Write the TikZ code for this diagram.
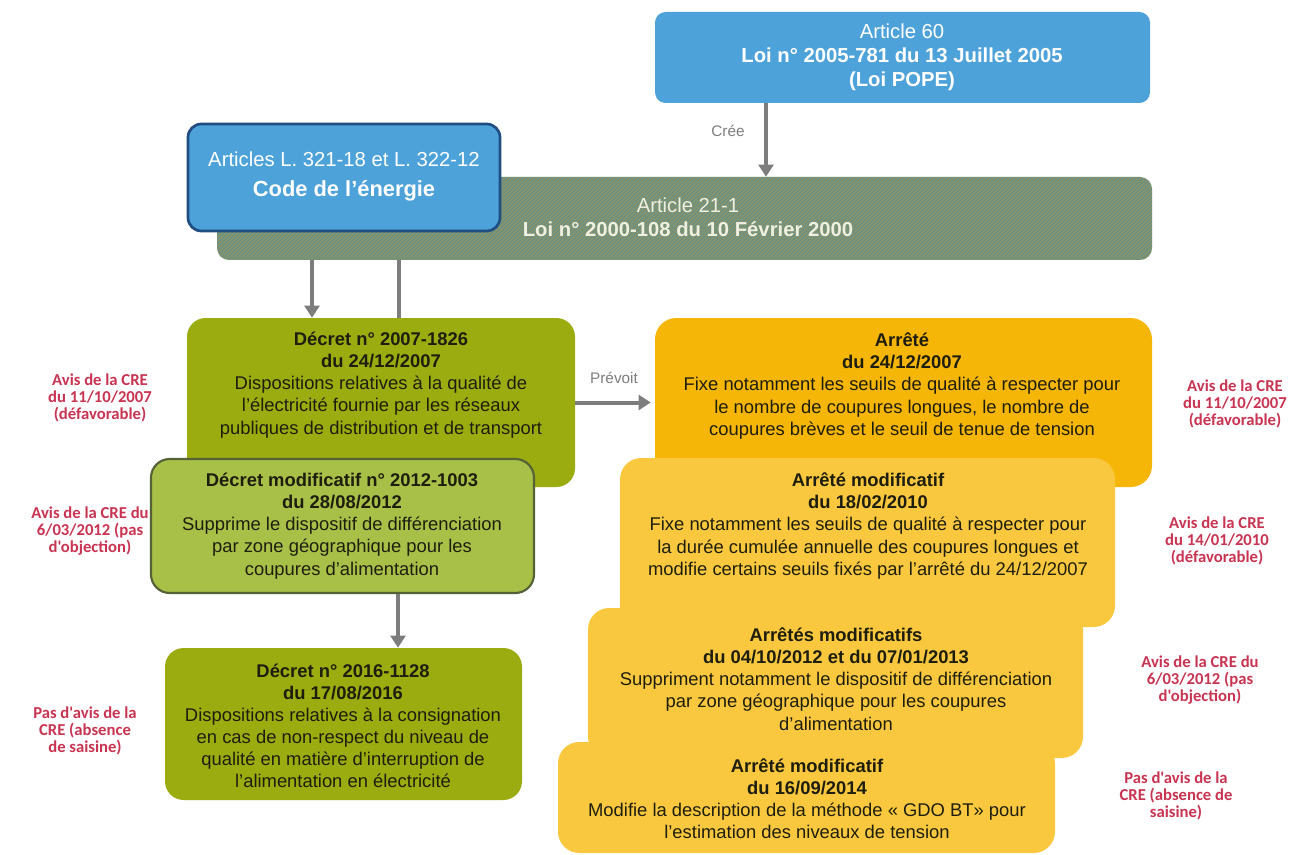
\documentclass[tikz,border=0pt]{standalone}
\usepackage{fontspec}
\setmainfont{Liberation Sans}
\newfontfamily\labfont{Carlito}
\usetikzlibrary{arrows.meta,patterns,fit}
\definecolor{blueA}{RGB}{78,162,218}
\definecolor{blueBorder}{RGB}{32,78,130}
\definecolor{hatchBase}{RGB}{110,145,128}
\definecolor{hatchStripe}{RGB}{158,150,92}
\definecolor{olive}{RGB}{155,172,16}
\definecolor{lightGreen}{RGB}{168,192,72}
\definecolor{greenBorder}{RGB}{85,98,55}
\definecolor{orangeA}{RGB}{246,182,8}
\definecolor{orangeB}{RGB}{250,200,62}
\definecolor{redLab}{RGB}{200,52,82}
\definecolor{arrGray}{RGB}{125,125,125}
\definecolor{darkText}{RGB}{30,30,15}
\definecolor{creamText}{RGB}{240,240,225}
\tikzset{
  box/.style={rounded corners=11pt, inner sep=0pt, draw=none},
  body/.style={align=center, text=darkText, font=\fontsize{13.8}{16.6}\selectfont},
  lab/.style={align=center, text=redLab, font=\labfont\bfseries\fontsize{12.5}{12.6}\selectfont},
  small/.style={text=arrGray, font=\fontsize{11.5}{13}\selectfont},
  arr/.style={draw=arrGray, line width=3pt, -{Triangle[length=9pt,width=11pt]}},
  plainline/.style={draw=arrGray, line width=3pt},
}
\begin{document}
\begin{tikzpicture}[x=0.75pt,y=-0.75pt]
\useasboundingbox (0,0) rectangle (1301,855);
\fill[white] (0,0) rectangle (1301,855);

% top blue
\node[box, rounded corners=8pt, fill=blueA, fit={(655,12) (1150,103)}] (a60) {};
\node[align=center, text=white, font=\fontsize{15.2}{18}\selectfont] (a60t) at (902,57)
  {Article 60\\\textbf{Loi n° 2005-781 du 13 Juillet 2005}\\\textbf{(Loi POPE)}};

% hatched
\node[box, rounded corners=9pt, fill=hatchBase, postaction={pattern=north east lines, pattern color=hatchStripe}, fit={(217,177) (1152,260)}] (art21) {};
\node[align=center, text=creamText, font=\fontsize{15.2}{18}\selectfont] (art21t) at (688,217)
  {Article 21-1\\\textbf{Loi n° 2000-108 du 10 F\'evrier 2000}};

% code de l'energie
\node[box, rounded corners=10pt, fill=blueA, draw=blueBorder, line width=2pt, fit={(188,124) (500,231)}] (code) {};
\node[align=center, text=white, font=\fontsize{15.2}{22.5}\selectfont] (codet) at (344,176)
  {Articles L. 321-18 et L. 322-12\\{\fontsize{16.4}{22.5}\selectfont\bfseries Code de l'\'energie}};

% green column
\node[box, rounded corners=14pt, fill=olive, fit={(187,318) (575,487)}] (d07) {};
\node[body] (d07t) at (381,385)
  {\textbf{D\'ecret n° 2007-1826}\\\textbf{du 24/12/2007}\\Dispositions relatives \`a la qualit\'e de\\l'\'electricit\'e fournie par les r\'eseaux\\publiques de distribution et de transport};

\node[box, rounded corners=14pt, fill=lightGreen, draw=greenBorder, line width=1.6pt, fit={(151,459) (534,593)}] (dmod) {};
\node[body] (dmodt) at (342,526)
  {\textbf{D\'ecret modificatif n° 2012-1003}\\\textbf{du 28/08/2012}\\Supprime le dispositif de diff\'erenciation\\par zone g\'eographique pour les\\coupures d'alimentation};

\node[box, rounded corners=14pt, fill=olive, fit={(165,648) (522,800)}] (d16) {};
\node[body] (d16t) at (343,726)
  {\textbf{D\'ecret n° 2016-1128}\\\textbf{du 17/08/2016}\\Dispositions relatives \`a la consignation\\en cas de non-respect du niveau de\\qualit\'e en mati\`ere d'interruption de\\l'alimentation en \'electricit\'e};

% orange column
\node[box, rounded corners=16pt, fill=orangeA, fit={(655,318) (1152,487)}] (a07) {};
\node[body] (a07t) at (902,386)
  {\textbf{Arr\^et\'e}\\\textbf{du 24/12/2007}\\Fixe notamment les seuils de qualit\'e \`a respecter pour\\le nombre de coupures longues, le nombre de\\coupures br\`eves et le seuil de tenue de tension};

\node[box, rounded corners=16pt, fill=orangeB, fit={(620,458) (1115,627)}] (a10) {};
\node[body] (a10t) at (868,526)
  {\textbf{Arr\^et\'e modificatif}\\\textbf{du 18/02/2010}\\Fixe notamment les seuils de qualit\'e \`a respecter pour\\la dur\'ee cumul\'ee annuelle des coupures longues et\\modifie certains seuils fix\'es par l'arr\^et\'e du 24/12/2007};

\node[box, rounded corners=16pt, fill=orangeB, fit={(588,608) (1083,758)}] (a12) {};
\node[body] (a12t) at (836,679)
  {\textbf{Arr\^et\'es modificatifs}\\\textbf{du 04/10/2012 et du 07/01/2013}\\Suppriment notamment le dispositif de diff\'erenciation\\par zone g\'eographique pour les coupures\\d'alimentation};

\node[box, rounded corners=16pt, fill=orangeB, fit={(558,742) (1055,853)}] (a14) {};
\node[body] (a14t) at (807,799)
  {\textbf{Arr\^et\'e modificatif}\\\textbf{du 16/09/2014}\\Modifie la description de la m\'ethode \guillemotleft~GDO BT\guillemotright{} pour\\l'estimation des niveaux de tension};

% connectors
\coordinate (cx) at (766,0);
\coordinate (c1) at (312,0);
\coordinate (c2) at (399,0);
\coordinate (c3) at (398,0);
\draw[arr] (a60.south -| cx) -- (art21.north -| cx);
\draw[arr] (art21.south -| c1) -- (d07.north -| c1);
\draw[plainline] (art21.south -| c2) -- (d07.north -| c2);
\draw[arr, shorten >=3pt] (d07.east) -- (a07.west);
\draw[arr] (dmod.south -| c3) -- (d16.north -| c3);
\node[small] (cree) at (728,131) {Cr\'ee};
\node[small] (prevoit) at (614,378) {Pr\'evoit};

% CRE labels
\node[lab] (l1) at (100,398) {Avis de la CRE\\du 11/10/2007\\(d\'efavorable)};
\node[lab] (l2) at (90,531) {Avis de la CRE du\\6/03/2012 (pas\\d'objection)};
\node[lab] (l3) at (85,731) {Pas d'avis de la\\CRE (absence\\de saisine)};
\node[lab] (r1) at (1235,404) {Avis de la CRE\\du 11/10/2007\\(d\'efavorable)};
\node[lab] (r2) at (1217,541) {Avis de la CRE\\du 14/01/2010\\(d\'efavorable)};
\node[lab] (r3) at (1200,680) {Avis de la CRE du\\6/03/2012 (pas\\d'objection)};
\node[lab] (r4) at (1176,796) {Pas d'avis de la\\CRE (absence de\\saisine)};
\end{tikzpicture}
\end{document}
